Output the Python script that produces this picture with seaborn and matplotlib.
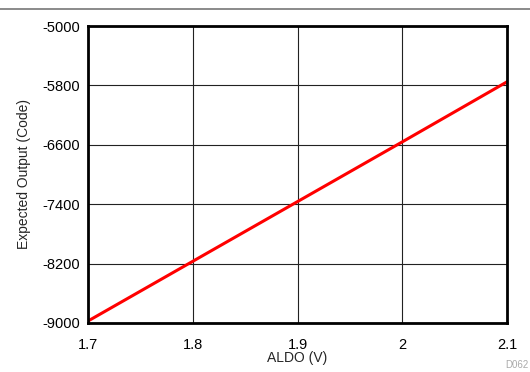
import numpy as np
import matplotlib.pyplot as plt
import seaborn as sns
import pandas as pd

# --- datos ---
aldo_v = [1.7, 1.8, 1.9, 2.0, 2.1]
expected_code = [-8975, -8170, -7365, -6560, -5750]
x_ticks = [1.7, 1.8, 1.9, 2.0, 2.1]
x_tick_labels = ["1.7", "1.8", "1.9", "2", "2.1"]
y_ticks = [-9000, -8200, -7400, -6600, -5800, -5000]

df = pd.DataFrame({"ALDO": aldo_v, "Code": expected_code})

sns.set_theme(style="white")
plt.rcParams['font.family'] = ['Liberation Sans', 'DejaVu Sans']
plt.rcParams['axes.unicode_minus'] = False

fig = plt.figure(figsize=(5.3, 3.72), dpi=100)
ax = fig.add_axes([0.166, 0.132, 0.791, 0.798])

sns.lineplot(data=df, x="ALDO", y="Code", color="#ff0000", linewidth=2.2, ax=ax)

ax.set_xlim(1.7, 2.1)
ax.set_ylim(-9000, -5000)
ax.set_xticks(x_ticks)
ax.set_xticklabels(x_tick_labels)
ax.set_yticks(y_ticks)
ax.grid(True, color="#222222", linewidth=0.8)
for s in ax.spines.values():
    s.set_color("black")
    s.set_linewidth(2)
ax.tick_params(axis="both", labelsize=10.5, length=0, colors="black")
ax.tick_params(axis="x", pad=11)
ax.tick_params(axis="y", pad=6)
ax.set_xlabel("ALDO (V)", fontsize=10, labelpad=-1)
ax.set_ylabel("Expected Output (Code)", fontsize=10, labelpad=8)

# línea superior y etiqueta
fig.add_artist(plt.Line2D([0, 1], [0.976, 0.976], color="#777777", linewidth=1.2))
fig.text(0.998, 0.005, "D062", fontsize=7, color="#aaaaaa", ha="right", va="bottom")

plt.savefig("out.png", dpi=100)
plt.close()
